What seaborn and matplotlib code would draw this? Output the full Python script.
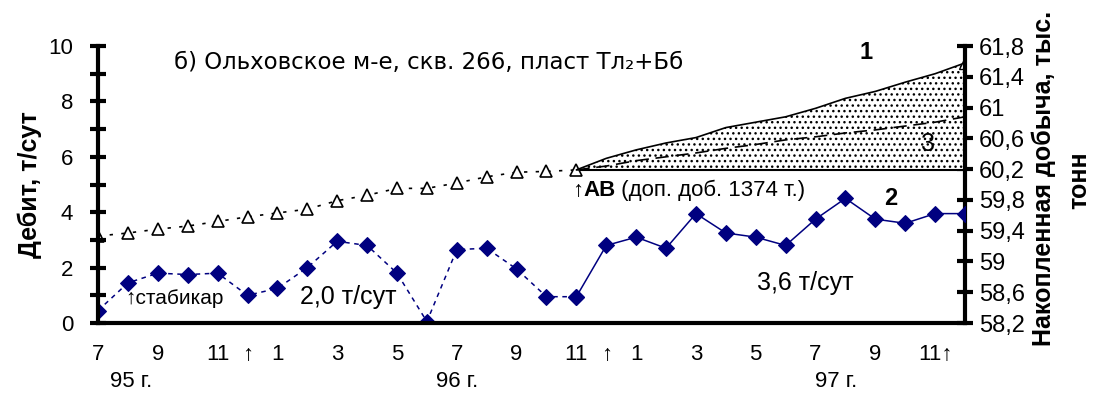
import numpy as np
import pandas as pd
import matplotlib
matplotlib.use("Agg")
import matplotlib.pyplot as plt
import matplotlib.transforms as mtransforms
import seaborn as sns

# month index 0 = Jul 1995 ... 29 = Dec 1997
months = list(range(30))

# series 2: flow rate, t/day (left axis)
debit = [0.45, 1.45, 1.8, 1.75, 1.8, 1.0, 1.25, 2.0, 2.95, 2.8,
         1.8, 0.05, 2.65, 2.7, 1.95, 0.95, 0.95, 2.8, 3.1, 2.7,
         3.95, 3.25, 3.1, 2.8, 3.75, 4.5, 3.75, 3.6, 3.95, 3.95]

# cumulative production before treatment, thousand t (right axis), months 0..16
cum_base = [59.33, 59.37, 59.42, 59.46, 59.52, 59.58, 59.63, 59.68, 59.79,
            59.86, 59.95, 59.95, 60.02, 60.10, 60.16, 60.17, 60.19]

# curve 1: actual cumulative after treatment, months 16..29
cum_actual = [60.19, 60.34, 60.45, 60.54, 60.61, 60.74, 60.81, 60.88,
              60.99, 61.12, 61.21, 61.33, 61.44, 61.58]
# curve 3: base trend extrapolation, months 16..29
cum_trend = [60.19, 60.24, 60.31, 60.36, 60.41, 60.47, 60.52, 60.58,
             60.62, 60.67, 60.71, 60.76, 60.81, 60.88]

x_ticklabels = ["7", "", "9", "", "11", "\u2191", "1", "", "3", "", "5", "", "7", "", "9",
                "", "11", "\u2191", "1", "", "3", "", "5", "", "7", "", "9", "", "11\u2191", ""]
years = [("95 г.", 1.1), ("96 г.", 12.0), ("97 г.", 24.7)]
right_ticks = [58.2, 58.6, 59.0, 59.4, 59.8, 60.2, 60.6, 61.0, 61.4, 61.8]

sns.set_style("white")
plt.rcParams["font.family"] = ["Liberation Sans", "DejaVu Sans"]
plt.rcParams["text.color"] = "black"

navy = "#000080"
fig = plt.figure(figsize=(10.93, 3.96), dpi=100)
ax = fig.add_axes([0.0897, 0.1843, 0.7932, 0.6995])
ax2 = ax.twinx()

df = pd.DataFrame({"month": months, "debit": debit})
seg1 = df[df["month"] <= 16]
seg2 = df[df["month"] >= 16]
sns.lineplot(data=seg1, x="month", y="debit", ax=ax, color=navy, lw=1.1,
             linestyle=(0, (3, 3)), marker="D", markersize=8, markeredgecolor=navy)
sns.lineplot(data=seg2, x="month", y="debit", ax=ax, color=navy, lw=1.1,
             marker="D", markersize=8, markeredgecolor=navy)

base = pd.DataFrame({"month": months[:17], "cum": cum_base})
after = pd.DataFrame({"month": months[16:], "actual": cum_actual, "trend": cum_trend})

ax2.fill_between(after["month"], cum_base[-1], after["actual"], facecolor="white",
                 edgecolor="black", hatch="...", linewidth=0)
ax2.plot([16, 29], [cum_base[-1], cum_base[-1]], color="black", lw=1.5)
sns.lineplot(data=base, x="month", y="cum", ax=ax2, color="black", lw=1.2,
             linestyle=(0, (2, 5)), marker="^", markersize=8,
             markerfacecolor="white", markeredgecolor="black", markeredgewidth=1.2)
sns.lineplot(data=after, x="month", y="actual", ax=ax2, color="black", lw=1.2)
sns.lineplot(data=after, x="month", y="trend", ax=ax2, color="black", lw=1.2,
             linestyle=(0, (8, 4)))
ax2.plot(after["month"].iloc[-1:], after["actual"].iloc[-1:], marker="^", markersize=8,
         markerfacecolor="white", markeredgecolor="black", lw=0)

# axes styling
ax.set_xlim(0, 29)
ax.set_ylim(0, 10)
ax2.set_ylim(58.2, 61.8)
for a in (ax, ax2):
    a.set_xlabel("")
    a.set_ylabel("")
    for s in a.spines.values():
        s.set_visible(False)
ax.spines["left"].set_visible(True)
ax.spines["bottom"].set_visible(True)
ax2.spines["right"].set_visible(True)
for s in (ax.spines["left"], ax.spines["bottom"], ax2.spines["right"]):
    s.set_linewidth(3)
    s.set_color("black")
ax.set_zorder(ax2.get_zorder() + 1)
ax.patch.set_visible(False)

ax.set_xticks(months)
ax.set_xticklabels(x_ticklabels)
ax.set_yticks(range(11))
ax.set_yticklabels([str(v) if v % 2 == 0 else "" for v in range(11)])
ax2.set_yticks(right_ticks)
ax2.set_yticklabels([f"{v:.1f}".replace(".", ",").replace(",0", "") for v in right_ticks])
ax.tick_params(axis="both", direction="inout", length=12, width=3, labelsize=16,
               colors="black", pad=12)
ax.tick_params(axis="x", pad=9)
ax2.tick_params(axis="y", direction="inout", length=12, width=3, labelsize=17,
                colors="black", pad=4)

trans = mtransforms.blended_transform_factory(ax.transData, ax.transAxes)
for label, xpos in years:
    ax.text(xpos, -0.21, label, transform=trans, ha="center", va="center", fontsize=16)

# annotations
ax.text(2.55, 9.42, "б) Ольховское м-е, скв. 266, пласт Тл\u2082+Бб", fontsize=16.5,
        va="center", ha="left", family=["DejaVu Sans"])
ax.text(0.9, 0.9, "\u2191стабикар", fontsize=15, va="center", ha="left")
ax.text(6.75, 0.95, "2,0 т/сут", fontsize=18, va="center", ha="left")
ax.text(22.05, 1.45, "3,6 т/сут", fontsize=18, va="center", ha="left")
t1 = ax.text(15.85, 4.8, "\u2191", fontsize=16, va="center", ha="left")
t2 = ax.annotate("AB", xy=(1, 0), xycoords=t1, va="bottom", ha="left",
                 fontsize=16, fontweight="bold")
ax.annotate(" (доп. доб. 1374 т.)", xy=(1, 0), xycoords=t2, va="bottom", ha="left",
            fontsize=16)
ax.text(25.7, 9.75, "1", fontsize=17, fontweight="bold", ha="center", va="center")
ax.text(26.5, 4.5, "2", fontsize=17, fontweight="bold", ha="center", va="center")
ax.text(27.75, 6.45, "3", fontsize=18, ha="center", va="center")

fig.text(30 / 1093, 1 - 185 / 396, "Дебит, т/сут", rotation=90, fontsize=18,
         fontweight="bold", ha="center", va="center")
fig.text(1044 / 1093, 1 - 178 / 396, "Накопленная добыча, тыс.", rotation=90,
         fontsize=18, fontweight="bold", ha="center", va="center")
fig.text(1079 / 1093, 1 - 180 / 396, "тонн", rotation=90, fontsize=18,
         fontweight="bold", ha="center", va="center")

fig.savefig("out.png", dpi=100)
